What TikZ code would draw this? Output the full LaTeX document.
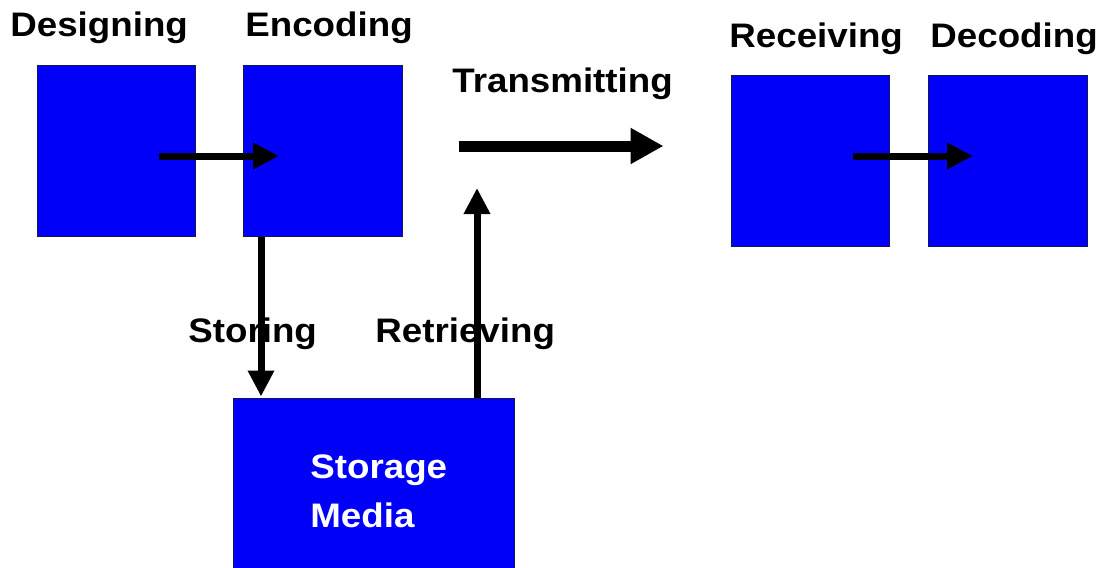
\documentclass[tikz,border=0pt]{standalone}
\usepackage{fontspec}
\setmainfont{Liberation Sans}[FakeStretch=1.08]
\usetikzlibrary{arrows.meta,calc}

\definecolor{stageblue}{RGB}{0,0,250}
\definecolor{stageedge}{RGB}{20,20,90}

\tikzset{
    stage/.style={
        draw=stageedge,
        line width=0.5pt,
        fill=stageblue,
        inner sep=0pt,
        minimum width=79pt,
        minimum height=85pt
    },
    caption/.style={
        anchor=base west,
        inner sep=0pt,
        font=\fontsize{17}{24.5}\selectfont\bfseries
    },
    flow/.style={line width=3.5pt, -{Triangle[length=13pt,width=12.5pt]}},
    bigflow/.style={line width=5.5pt, -{Triangle[length=16.5pt,width=17pt]}}
}

\begin{document}
\begin{tikzpicture}[x=0.5pt, y=-0.5pt]
\useasboundingbox (0,0) rectangle (1112,567);
\clip (0,0) rectangle (1112,567);

% stages
\node[stage] (design) at (116,151) {};
\node[stage, minimum width=79.5pt] (encode) at (322.5,151) {};
\node[stage] (receive) at (810,161) {};
\node[stage, minimum width=79.5pt] (decode) at (1007.5,161) {};
\node[stage, minimum width=140.5pt, minimum height=87pt] (media) at (373.5,485) {};

% captions
\node[caption] (designlbl) at (10,37) {Designing};
\node[caption] (encodelbl) at (245,37) {Encoding};
\node[caption] (transmitlbl) at (452,92) {Transmitting};
\node[caption] (receivelbl) at (729,48) {Receiving};
\node[caption] (decodelbl) at (930,48) {Decoding};
\node[caption] (storelbl) at (188,342) {Storing};
\node[caption] (retrievelbl) at (375,342) {Retrieving};
\node[caption, text=white, align=left] (medialbl) at (310,527) {Storage\\Media};

% flows
\draw[flow] ($(design.center)+(43,5)$) -- ($(encode.center)+(-43.5,5)$);
\draw[bigflow] ($(encode.east)+(56,-5)$) -- ($(receive.west)+(-67,-15)$);
\draw[flow] ($(receive.center)+(43,-5)$) -- ($(decode.center)+(-34.5,-5)$);
\draw[flow] ($(encode.south)+(-61.5,0)$) -- ($(media.north)+(-112.5,-1)$);
\coordinate (retrievetip) at (477,188);
\draw[flow] ($(media.north)+(103.5,0)$) -- (retrievetip);
\end{tikzpicture}
\end{document}
